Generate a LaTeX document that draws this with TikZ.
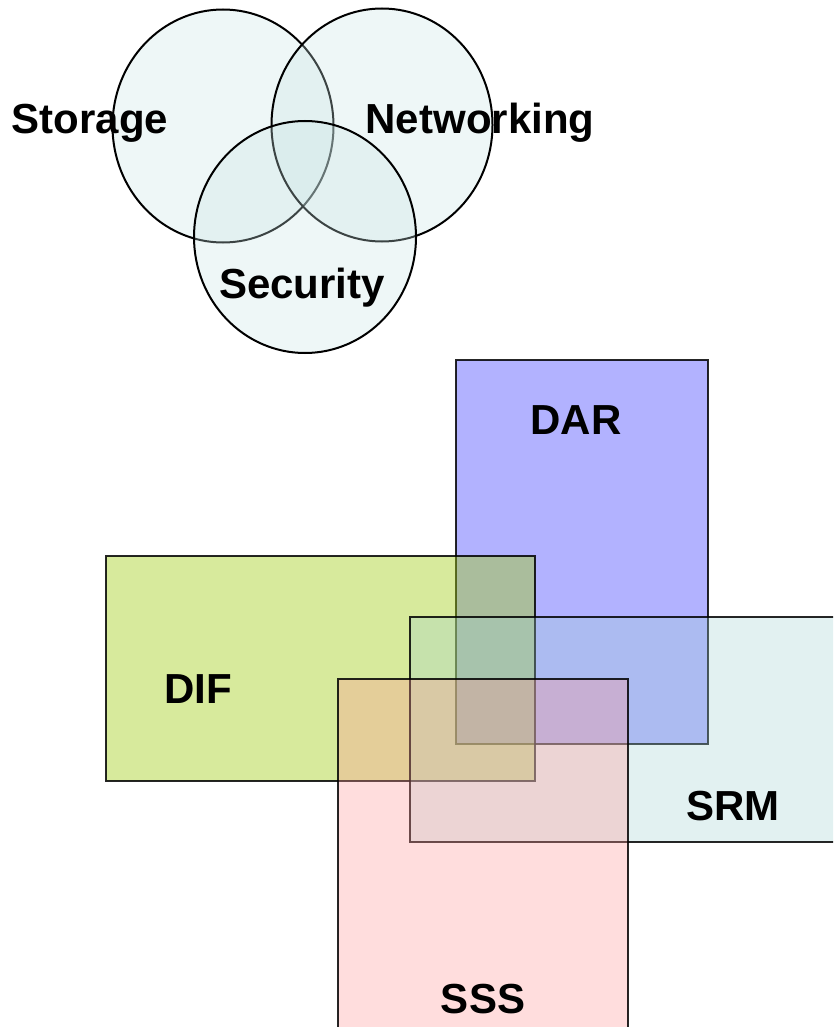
\documentclass[tikz,border=0pt]{standalone}
\usepackage{fontspec}
\setmainfont{Liberation Sans}
\usetikzlibrary{shapes.geometric}
\definecolor{venn}{RGB}{200,228,228}
\definecolor{darc}{RGB}{0,0,255}
\definecolor{difc}{RGB}{160,205,20}
\definecolor{srmc}{RGB}{160,210,210}
\definecolor{sssc}{RGB}{255,150,150}
\tikzset{
  vcirc/.style={ellipse,draw=black,line width=2pt,fill=venn,fill opacity=0.3,inner sep=0pt},
  lbl/.style={font=\fontsize{42}{48}\selectfont\bfseries,text=black,inner sep=0pt,anchor=center},
  rbox/.style={draw=black,line width=2pt,fill opacity=#1,draw opacity=0.85},
}
\begin{document}
\begin{tikzpicture}[x=1pt,y=-1pt]
\useasboundingbox (0,0) rectangle (833,1027);
\clip (0,0) rectangle (833,1027);
% Venn
\node[vcirc,minimum width=221pt,minimum height=233pt] (cst) at (223,126) {};
\node[vcirc,minimum width=221pt,minimum height=233pt] (cnw) at (382,125) {};
\node[vcirc,minimum width=222pt,minimum height=232pt] (csc) at (305,237) {};
\node[lbl] (tst) at (90,123) {Storage};
\node[lbl] (tnw) at (480,123) {Networking};
\node[lbl] (tsc) at (302,288) {Security};
% Boxes
\path[rbox=0.3,fill=darc] (456,360) rectangle (708,744);
\path[rbox=0.42,fill=difc] (106,556) rectangle (535,781);
\path[rbox=0.3,fill=srmc] (410,617) rectangle (840,842);
\path[rbox=0.32,fill=sssc] (338,679) rectangle (628,1040);
\node[minimum width=252pt,minimum height=384pt,inner sep=0pt] (dar) at (582,552) {};
\node[minimum width=429pt,minimum height=225pt,inner sep=0pt] (dif) at (320.5,668.5) {};
\node[minimum width=430pt,minimum height=225pt,inner sep=0pt] (srm) at (625,729.5) {};
\node[minimum width=290pt,minimum height=361pt,inner sep=0pt] (sss) at (483,859.5) {};
\node[lbl] (tdar) at (576,420) {DAR};
\node[lbl] (tdif) at (198,689) {DIF};
\node[lbl] (tsrm) at (733,806) {SRM};
\node[lbl] (tsss) at (483,999) {SSS};
\end{tikzpicture}
\end{document}
